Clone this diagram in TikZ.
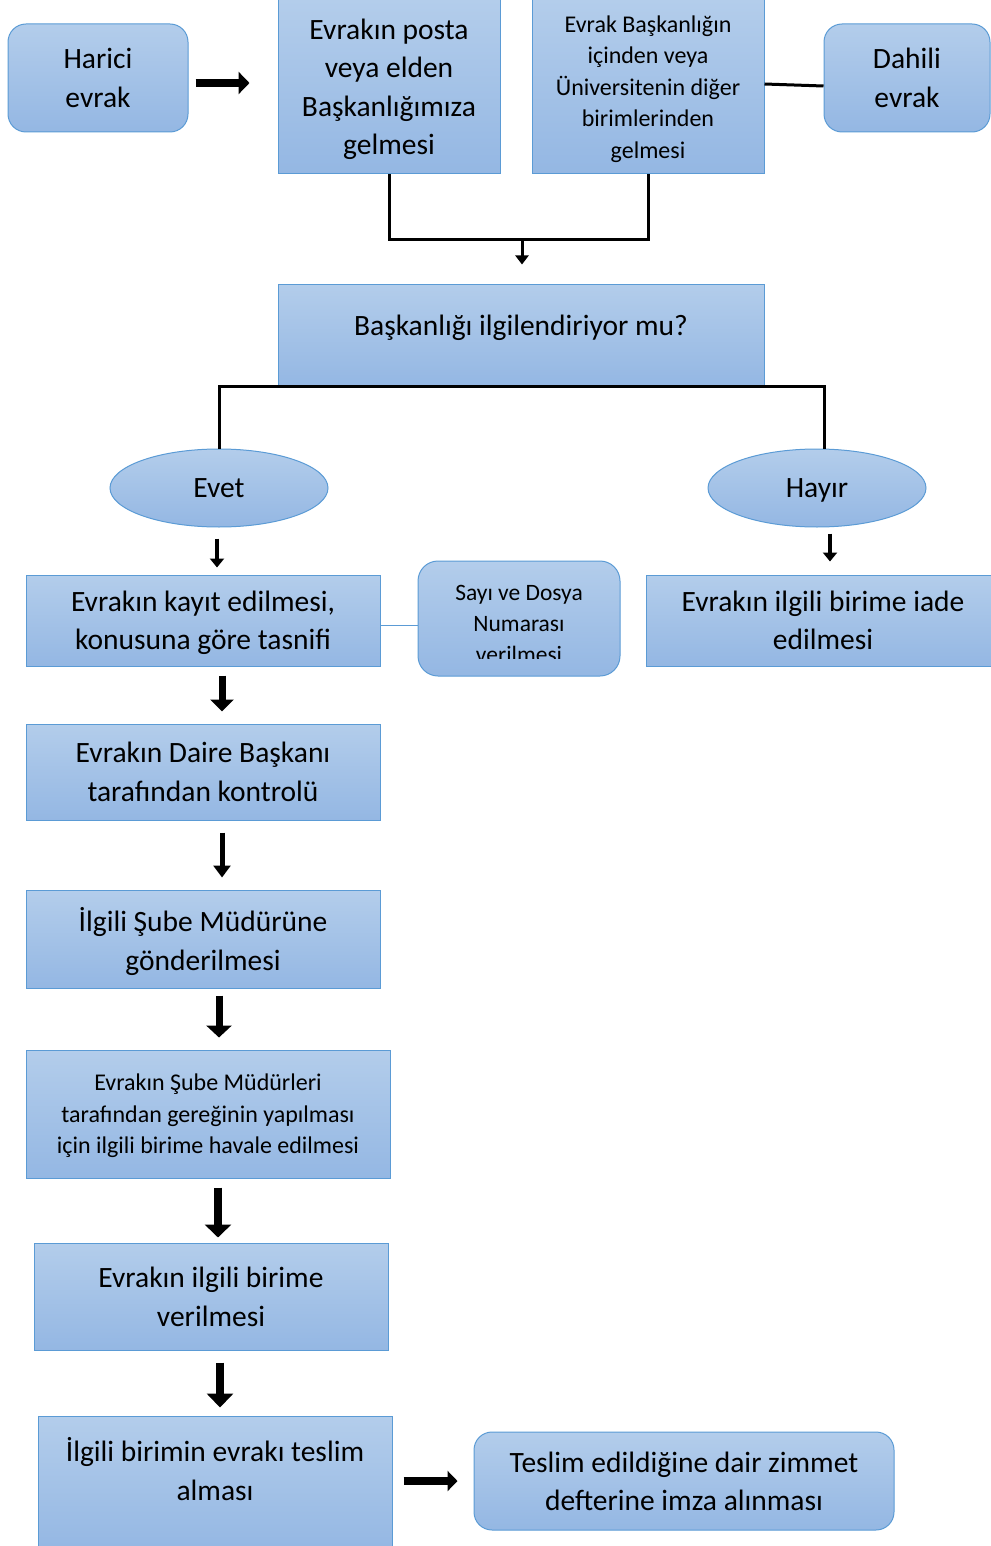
\documentclass[tikz,border=0pt]{standalone}
\usepackage{fontspec}
\setmainfont{Carlito}
\usetikzlibrary{shapes.geometric,arrows.meta,calc}
\definecolor{fillTop}{HTML}{B3CDEB}
\definecolor{fillBot}{HTML}{94B7E3}
\definecolor{edgeblue}{HTML}{5B9BD5}
\newcommand\bigtxt{\fontsize{29.5}{38.5}\selectfont}
\newcommand\smalltxt{\fontsize{24}{31.5}\selectfont}
\newcommand\sayitxt{\fontsize{23.5}{31}\selectfont}
\tikzset{
  box/.style={draw=edgeblue, line width=1pt, top color=fillTop, bottom color=fillBot,
    align=center, font=\bigtxt, inner sep=0pt, text=black, text depth=0pt},
  rbox/.style={box, rounded corners=18pt},
  ebox/.style={box, ellipse},
  conn/.style={line width=3pt, black},
  thinconn/.style={line width=1pt, edgeblue},
  barrow/.style n args={3}{line width=#1, black, -{Triangle[width=#2,length=#3]}},
}
\begin{document}
\begin{tikzpicture}[x=1pt,y=-1pt]
\useasboundingbox (0,0) rectangle (990,1546);
% top row
\node[rbox, minimum width=180, minimum height=108] (harici) at (98,78) {Harici\\evrak};
\node[box, minimum width=222, minimum height=174] (posta) at (389,87) {Evrakın posta\\veya elden\\Başkanlığımıza\\gelmesi};
\node[box, font=\smalltxt, minimum width=232, minimum height=174] (ic) at (648,87) {Evrak Başkanlığın\\içinden veya\\Üniversitenin diğer\\birimlerinden\\gelmesi};
\node[rbox, minimum width=166, minimum height=108] (dahili) at (907,78) {Dahili\\evrak};
\draw[barrow={8pt}{22pt}{11pt}] ($(harici.east)+(7,5)$) -- ($(posta.west)+(-28,-4)$);
\draw[conn] ($(ic.east)+(0,-3)$) -- ($(dahili.west)+(0,8)$);
% merge
\coordinate (mid) at (522,240);
\draw[conn] (posta.south) |- (mid) -| (ic.south);
\node[box, minimum width=486, minimum height=102, text depth=20pt] (bask) at (521,335) {Başkanlığı ilgilendiriyor mu?};
\draw[barrow={3pt}{13pt}{9pt}] (mid) -- ($(bask.north)+(1,-19)$);
% decision
\node[ebox, minimum width=218, minimum height=78] (evet) at (219,488) {Evet};
\node[ebox, minimum width=218, minimum height=78] (hayir) at (817,488) {Hayır};
\draw[conn] (evet.north) -- (evet.north |- bask.south) -- ($(hayir.north |- bask.south)+(7,0)$) -- ($(hayir.north)+(7,0)$);
% left column
\node[box, minimum width=354, minimum height=91] (kayit) at (203,620.5) {Evrakın kayıt edilmesi,\\konusuna göre tasnifi};
\node[rbox, minimum width=202, minimum height=115, rounded corners=20pt] (sayi) at (519,618.5) {};
\begin{scope}
\clip (420,563) rectangle (618,658);
\node[font=\sayitxt, align=center, inner sep=0pt] (sayitext) at (519,624) {Sayı ve Dosya\\Numarası\\verilmesi};
\end{scope}
\draw[thinconn] ($(kayit.east)+(0,5)$) -- ($(sayi.west)+(0,7)$);
\node[box, minimum width=354, minimum height=91] (iade) at (823,620.5) {Evrakın ilgili birime iade\\edilmesi};
\draw[barrow={4pt}{14pt}{9pt}] ($(evet.south)+(-2,11)$) -- ($(kayit.north)+(14,-7)$);
\draw[barrow={4pt}{14pt}{9pt}] ($(hayir.south)+(13,6)$) -- ($(iade.north)+(7,-13)$);
\node[box, minimum width=354, minimum height=96] (daire) at (203,772) {Evrakın Daire Başkanı\\tarafından kontrolü};
\draw[barrow={7pt}{23pt}{12pt}] ($(kayit.south)+(19,9)$) -- ($(daire.north)+(19,-12)$);
\node[box, minimum width=354, minimum height=98] (sube) at (203,939) {İlgili Şube Müdürüne\\gönderilmesi};
\draw[barrow={5pt}{17pt}{12pt}] ($(daire.south)+(19,12)$) -- ($(sube.north)+(19,-12)$);
\node[box, font=\smalltxt, minimum width=364, minimum height=128] (havale) at (208,1114) {Evrakın Şube Müdürleri\\tarafından gereğinin yapılması\\için ilgili birime havale edilmesi};
\draw[barrow={7pt}{25pt}{12pt}] ($(sube.south)+(16,7)$) -- ($(havale.north)+(11,-12)$);
\node[box, minimum width=354, minimum height=107] (verilme) at (211,1296.5) {Evrakın ilgili birime\\verilmesi};
\draw[barrow={8pt}{26pt}{13pt}] ($(havale.south)+(10,9)$) -- ($(verilme.north)+(7,-5)$);
\node[box, minimum width=354, minimum height=136, text depth=30pt] (teslim) at (215,1484) {İlgili birimin evrakı teslim\\alması};
\draw[barrow={8pt}{26pt}{14pt}] ($(verilme.south)+(9,12)$) -- ($(teslim.north)+(5,-8)$);
\node[rbox, minimum width=420, minimum height=98] (zimmet) at (684,1481) {Teslim edildiğine dair zimmet\\defterine imza alınması};
\draw[barrow={8pt}{20pt}{10pt}] ($(teslim.east |- zimmet.west)+(11,0)$) -- ($(zimmet.west)+(-16,0)$);
\end{tikzpicture}
\end{document}
